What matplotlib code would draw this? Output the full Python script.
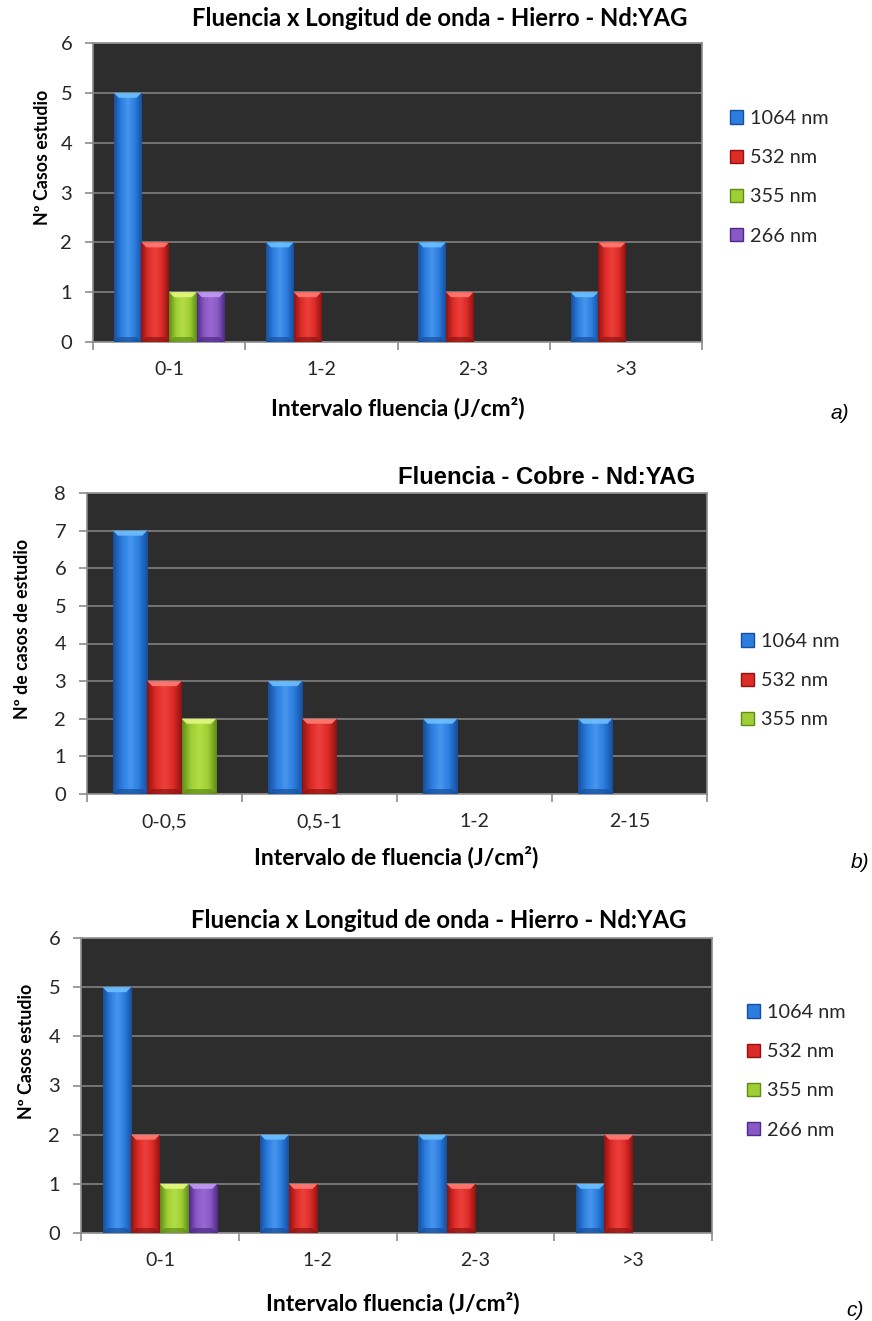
import numpy as np
import matplotlib.pyplot as plt
from matplotlib.colors import LinearSegmentedColormap
from matplotlib.patches import Polygon, Patch

plt.rcParams['font.family'] = ['Lato', 'DejaVu Sans']

W, H = 872, 1321

# Hierro (paneles a y c)
hierro_cats = ['0-1', '1-2', '2-3', '>3']
hierro_labels = ['1064 nm', '532 nm', '355 nm', '266 nm']
hierro_1064 = [5, 2, 2, 1]
hierro_532 = [2, 1, 1, 2]
hierro_355 = [1, 0, 0, 0]
hierro_266 = [1, 0, 0, 0]

# Cobre (panel b)
cobre_cats = ['0-0,5', '0,5-1', '1-2', '2-15']
cobre_labels = ['1064 nm', '532 nm', '355 nm']
cobre_1064 = [7, 3, 2, 2]
cobre_532 = [3, 2, 0, 0]
cobre_355 = [2, 0, 0, 0]

# base, highlight, dark edge, top bevel
palette = [
    dict(base='#2b7ddf', light='#4796ee', dark='#174f9c', top='#6cc0ff'),
    dict(base='#dd2b27', light='#ec403c', dark='#8e1412', top='#ff7c74'),
    dict(base='#9fcf34', light='#b4dd46', dark='#5f8c18', top='#e4f880'),
    dict(base='#8a58c4', light='#9a68d2', dark='#4e2a88', top='#c09cf0'),
]


def fx(x):
    return x / W


def fy(y):
    return 1 - y / H


def add_panel(left, top, right, bottom):
    return plt.gcf().add_axes([fx(left), fy(bottom), (right - left) / W, (bottom - top) / H])


def draw_panel(ax, cats, series, labels, ymax):
    n = len(series)
    width = 1 / (n + 1.5)
    x = np.arange(len(cats))
    bbox = ax.get_window_extent()
    dy = ymax / bbox.height * 5
    dx = len(cats) / bbox.width * 5
    for i, vals in enumerate(series):
        pal = palette[i]
        pos = x + (i - (n - 1) / 2) * width
        bars = ax.bar(pos, vals, width, color=pal['base'], linewidth=0, zorder=3,
                      label=labels[i])
        cmap = LinearSegmentedColormap.from_list(
            'g%d' % i, [pal['dark'], pal['base'], pal['light'], pal['base'], pal['dark']])
        for b in bars:
            h = b.get_height()
            if h <= 0:
                continue
            x0, x1 = b.get_x(), b.get_x() + b.get_width()
            im = ax.imshow(np.linspace(0, 1, 64)[None, :], cmap=cmap, extent=(x0, x1, 0, h),
                           aspect='auto', zorder=3.2, interpolation='bicubic')
            im.set_clip_path(b)
            ax.add_patch(Polygon([(x0, h), (x1, h), (x1 - dx, h - dy), (x0 + dx, h - dy)],
                                 closed=True, facecolor=pal['top'], edgecolor='none',
                                 alpha=0.9, zorder=3.4))
            ax.add_patch(Polygon([(x0, 0), (x1, 0), (x1 - dx, dy), (x0 + dx, dy)],
                                 closed=True, facecolor=pal['dark'], edgecolor='none',
                                 alpha=0.7, zorder=3.4))

    ax.set_facecolor('#2d2d2d')
    for s in ax.spines.values():
        s.set_color('#8c8c8c')
        s.set_linewidth(1.2)
    ax.set_xlim(-0.5, len(cats) - 0.5)
    ax.set_ylim(0, ymax)
    ax.set_yticks(range(ymax + 1))
    ax.set_axisbelow(True)
    ax.yaxis.grid(True, color='#7a7a7a', linewidth=1.3)
    ax.set_xticks(x)
    ax.set_xticklabels(cats)
    ax.set_xticks(np.arange(-0.5, len(cats)), minor=True)
    ax.tick_params(axis='x', which='major', length=0, pad=14, labelsize=14,
                   labelcolor='#262626')
    ax.tick_params(axis='x', which='minor', length=6, width=1.2, color='#8c8c8c')
    ax.tick_params(axis='y', length=6, width=1.2, color='#8c8c8c', pad=9, labelsize=14.5,
                   labelcolor='#262626')


def legend_at(ax, x, y):
    handles, labels = ax.get_legend_handles_labels()
    patches = [Patch(facecolor=palette[i]['base'], edgecolor=palette[i]['dark'])
               for i in range(len(labels))]
    plt.gcf().legend(patches, labels, loc='upper left', bbox_to_anchor=(fx(x), fy(y)),
                     frameon=False, fontsize=14.3, handlelength=0.65, handleheight=0.65,
                     handletextpad=0.35, labelspacing=1.12, borderpad=0, borderaxespad=0,
                     labelcolor='#262626')


fig = plt.figure(figsize=(W / 100, H / 100), dpi=100)

# a) Hierro
ax_a = add_panel(93, 43, 702, 342)
draw_panel(ax_a, hierro_cats, [hierro_1064, hierro_532, hierro_355, hierro_266],
           hierro_labels, 6)
legend_at(ax_a, 730, 110)
fig.text(fx(440), fy(18), 'Fluencia x Longitud de onda - Hierro - Nd:YAG', ha='center',
         va='center', fontsize=17.2, fontweight='bold')
fig.text(fx(43), fy(157), 'Nº Casos estudio', rotation=90, ha='center', va='center',
         fontsize=12.8, fontweight='bold')
fig.text(fx(398), fy(408), 'Intervalo fluencia (J/cm²)', ha='center', va='center',
         fontsize=16.5, fontweight='bold')
fig.text(fx(840), fy(413), 'a)', ha='center', va='center', fontsize=15, style='italic',
         family='Liberation Sans')

# b) Cobre
ax_b = add_panel(87, 493, 707, 794)
draw_panel(ax_b, cobre_cats, [cobre_1064, cobre_532, cobre_355], cobre_labels, 8)
legend_at(ax_b, 741, 633)
fig.text(fx(695), fy(477), 'Fluencia - Cobre - Nd:YAG', ha='right', va='center',
         fontsize=17.2, fontweight='bold', family='Liberation Sans')
fig.text(fx(22), fy(629), 'Nº de casos de estudio', rotation=90, ha='center', va='center',
         fontsize=12.8, fontweight='bold')
fig.text(fx(396), fy(857), 'Intervalo de fluencia (J/cm²)', ha='center', va='center',
         fontsize=16.5, fontweight='bold')
fig.text(fx(860), fy(862), 'b)', ha='center', va='center', fontsize=15, style='italic',
         family='Liberation Sans')

# c) Hierro
ax_c = add_panel(81, 938, 712, 1233)
draw_panel(ax_c, hierro_cats, [hierro_1064, hierro_532, hierro_355, hierro_266],
           hierro_labels, 6)
legend_at(ax_c, 747, 1004)
fig.text(fx(439), fy(920), 'Fluencia x Longitud de onda - Hierro - Nd:YAG', ha='center',
         va='center', fontsize=17.2, fontweight='bold')
fig.text(fx(27), fy(1051), 'Nº Casos estudio', rotation=90, ha='center', va='center',
         fontsize=12.8, fontweight='bold')
fig.text(fx(393), fy(1303), 'Intervalo fluencia (J/cm²)', ha='center', va='center',
         fontsize=16.5, fontweight='bold')
fig.text(fx(855), fy(1310), 'c)', ha='center', va='center', fontsize=15, style='italic',
         family='Liberation Sans')

fig.savefig('out.png', dpi=100, facecolor='white')
